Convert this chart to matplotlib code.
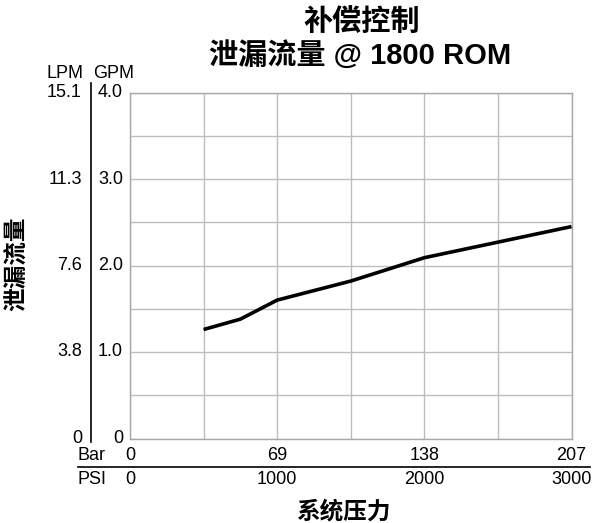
import matplotlib
matplotlib.use('Agg')
import matplotlib.pyplot as plt
import matplotlib.transforms as mtransforms

plt.rcParams['font.family'] = ['Liberation Sans', 'Noto Sans CJK SC', 'DejaVu Sans']

# data: leakage flow (GPM) vs system pressure (PSI)
psi = [500, 750, 1000, 1500, 2000, 2500, 3000]
gpm = [1.26, 1.38, 1.60, 1.82, 2.09, 2.27, 2.45]

gpm_ticks = [0, 1.0, 2.0, 3.0, 4.0]
gpm_labels = ['0', '1.0', '2.0', '3.0', '4.0']
lpm_labels = ['0', '3.8', '7.6', '11.3', '15.1']
psi_ticks = [0, 1000, 2000, 3000]
psi_labels = ['0', '1000', '2000', '3000']
bar_labels = ['0', '69', '138', '207']

W, H = 592, 523
fig = plt.figure(figsize=(W / 100, H / 100), dpi=100)
fig.patch.set_facecolor('white')
ax = fig.add_axes([130 / W, 1 - 438.5 / H, 441.5 / W, 346 / H])

ax.plot(psi, gpm, color='black', linewidth=2.6, solid_capstyle='butt', zorder=3)

ax.set_xlim(0, 3000)
ax.set_ylim(0, 4.0)
ax.set_xticks(range(0, 3001, 500))
ax.set_yticks([i * 0.5 for i in range(9)])
ax.grid(True, color='#bdbdbd', linewidth=1.0)
ax.tick_params(left=False, bottom=False, labelleft=False, labelbottom=False)
for s in ax.spines.values():
    s.set_color('#a8a8a8')
    s.set_linewidth(1.0)

fs = 13
# left scale labels (GPM and LPM)
ty = mtransforms.blended_transform_factory(fig.transFigure, ax.transData)
for v, g, l in zip(gpm_ticks, gpm_labels, lpm_labels):
    ax.text(123 / W, v, g, transform=ty, ha='right', va='center', fontsize=fs)
    ax.text(82 / W, v, l, transform=ty, ha='right', va='center', fontsize=fs)
fig.text(65 / W, 1 - 73 / H, 'LPM', ha='center', va='center', fontsize=fs)
fig.text(114 / W, 1 - 73 / H, 'GPM', ha='center', va='center', fontsize=fs)
fig.add_artist(plt.Line2D([91 / W, 91 / W], [1 - 83 / H, 1 - 442 / H],
                          transform=fig.transFigure, color='black', linewidth=1.2))

# bottom scale labels (Bar and PSI)
tx = mtransforms.blended_transform_factory(ax.transData, fig.transFigure)
for v, b, p in zip(psi_ticks, bar_labels, psi_labels):
    ax.text(v, 1 - 455 / H, b, transform=tx, ha='center', va='center', fontsize=fs)
    ax.text(v, 1 - 480 / H, p, transform=tx, ha='center', va='center', fontsize=fs)
fig.text(78 / W, 1 - 455 / H, 'Bar', ha='left', va='center', fontsize=fs)
fig.text(78 / W, 1 - 480 / H, 'PSI', ha='left', va='center', fontsize=fs)
fig.add_artist(plt.Line2D([78 / W, 590 / W], [1 - 467 / H, 1 - 467 / H],
                          transform=fig.transFigure, color='black', linewidth=1.2))

# titles
fig.text(362 / W, 1 - 22 / H, '补偿控制', ha='center', va='center',
         fontsize=21, fontweight='bold')
fig.text(360 / W, 1 - 55 / H, '泄漏流量 @ 1800 ROM', ha='center', va='center',
         fontsize=21, fontweight='bold')
fig.text(343 / W, 1 - 512 / H, '系统压力', ha='center', va='center',
         fontsize=17, fontweight='bold')
fig.text(18 / W, 1 - 264 / H, '泄漏流量', ha='center', va='center',
         fontsize=17, fontweight='bold', rotation=90)

fig.savefig('out.png', dpi=100)
